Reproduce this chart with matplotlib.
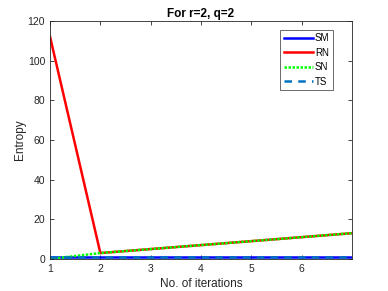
import matplotlib
matplotlib.use("Agg")
import matplotlib.pyplot as plt

iterations = [1, 2, 3, 4, 5, 6, 7]
sm = [1, 1, 1, 1, 1, 1, 1]
rn = [112, 3, 5, 7, 9, 11, 13]
sn = [0, 3, 5, 7, 9, 11, 13]
ts = [1, 1, 1, 1, 1, 1, 1]

plt.rcParams['font.family'] = ['Liberation Sans', 'DejaVu Sans']
dark = '#262626'

fig = plt.figure(figsize=(3.88, 2.91), dpi=100)
ax = fig.add_axes([0.129, 0.110, 0.778, 0.818])

ax.plot(iterations, sm, color='#0000ff', lw=1.8, label='SM')
ax.plot(iterations, rn, color='#ff0000', lw=1.8, label='RN')
ax.plot(iterations, sn, color='#00ff00', lw=1.8, ls=(0, (1, 0.6)), label='SN')
ax.plot(iterations, ts, color='#0072bd', lw=1.8, ls=(0, (3, 2.5)), label='TS')

ax.set_xlim(1, 7)
ax.set_ylim(0, 120)
ax.set_xticks([1, 2, 3, 4, 5, 6])
ax.set_yticks([0, 20, 40, 60, 80, 100, 120])
ax.tick_params(direction='in', top=True, right=True, labelsize=7.5,
               colors=dark, length=3, width=0.6)
for s in ax.spines.values():
    s.set_color(dark)
    s.set_linewidth(0.6)

ax.set_xlabel('No. of iterations', fontsize=8.5, color=dark, labelpad=3)
ax.set_ylabel('Entropy', fontsize=8.5, color=dark, labelpad=1)
ax.set_title('For r=2, q=2', fontsize=8.5, fontweight='bold', pad=3)

leg = ax.legend(loc='upper right', fontsize=7, frameon=True, fancybox=False,
                handlelength=3.0, handletextpad=0.2, labelspacing=0.45,
                borderpad=0.35, borderaxespad=0, bbox_to_anchor=(0.937, 0.962))
leg.get_frame().set_edgecolor(dark)
leg.get_frame().set_linewidth(0.6)

fig.savefig('out.png', dpi=100)
